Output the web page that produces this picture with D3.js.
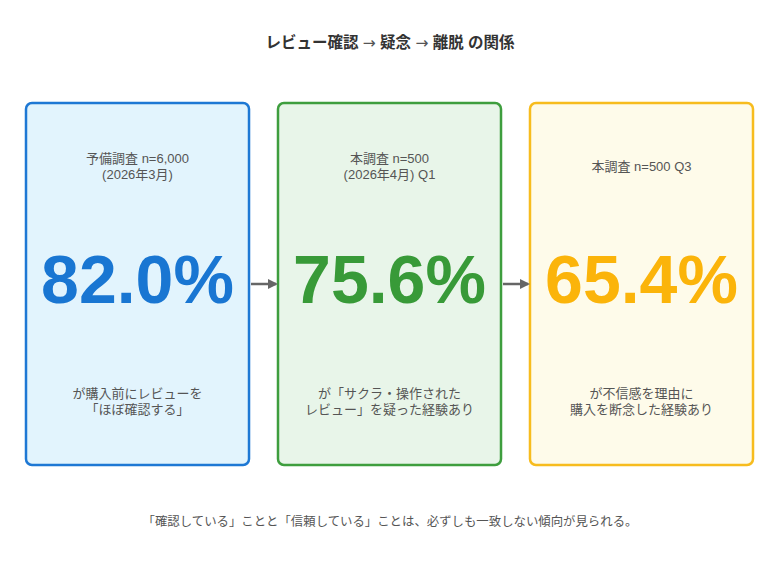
<!DOCTYPE html>
<html><head><meta charset="utf-8">
<script src="https://cdn.jsdelivr.net/npm/d3@7"></script>
<style>
html,body{margin:0;padding:0;background:#fff;}
svg{display:block;}
</style></head>
<body>
<svg id="chart" width="780" height="568"></svg>
<script>
const titleParts = ["レビュー確認 ", "→", " 疑念 ", "→", " 離脱 の関係"];
const stages = ["予備調査", "本調査Q1", "本調査Q3"];
const values = [82.0, 75.6, 65.4];
const topTexts = [
  ["予備調査 n=6,000", "(2026年3月)"],
  ["本調査 n=500", "(2026年4月) Q1"],
  ["本調査 n=500 Q3"]
];
const bottomTexts = [
  ["が購入前にレビューを", "「ほぼ確認する」"],
  ["が「サクラ・操作された", "レビュー」を疑った経験あり"],
  ["が不信感を理由に", "購入を断念した経験あり"]
];
const strokeColors = ["#1E78D4", "#3E9E3E", "#F7BC1E"];
const fillColors = ["#E2F4FD", "#E8F5E9", "#FEFBEA"];
const numColors = ["#1976D2", "#389A38", "#FBB40A"];
const footnote = "「確認している」ことと「信頼している」ことは、必ずしも一致しない傾向が見られる。";

const svg = d3.select("#chart");
const jp = "'Liberation Sans', 'Noto Sans CJK JP', sans-serif";

const x = d3.scaleBand().domain(stages).range([26, 753]).paddingInner(0.115).paddingOuter(0);
const boxTop = 103, boxBottom = 465;

svg.append("defs").append("marker")
  .attr("id", "arr").attr("viewBox", "0 0 10 10").attr("refX", 8).attr("refY", 5)
  .attr("markerWidth", 4).attr("markerHeight", 4).attr("orient", "auto")
  .append("path").attr("d", "M0,0 L10,5 L0,10 z").attr("fill", "#666");

const title = svg.append("text").attr("x", 390).attr("y", 48).attr("text-anchor", "middle")
  .attr("font-family", jp).attr("font-weight", "bold").attr("font-size", 15.5)
  .attr("fill", "#333");
title.selectAll("tspan").data(titleParts).join("tspan")
  .attr("font-family", d => d === "→" ? "'DejaVu Sans', sans-serif" : null)
  .attr("font-weight", d => d === "→" ? "normal" : null)
  .attr("fill", d => d === "→" ? "#555" : null)
  .text(d => d);

const g = svg.selectAll("g.stage").data(stages).join("g").attr("class", "stage");

g.append("rect")
  .attr("x", d => x(d)).attr("y", boxTop)
  .attr("width", x.bandwidth()).attr("height", boxBottom - boxTop)
  .attr("rx", 6).attr("ry", 6)
  .attr("fill", (d, i) => fillColors[i])
  .attr("stroke", (d, i) => strokeColors[i]).attr("stroke-width", 2.5);

g.each(function(d, i) {
  const cx = x(d) + x.bandwidth() / 2;
  const sel = d3.select(this);
  const tl = topTexts[i];
  const lh = 16;
  const tStart = 166 - (tl.length - 1) * lh / 2 + 5;
  tl.forEach((t, j) => {
    sel.append("text").attr("x", cx).attr("y", tStart + j * lh)
      .attr("text-anchor", "middle").attr("font-family", jp).attr("font-size", 13)
      .attr("fill", "#555").text(t);
  });
  sel.append("text").attr("x", cx).attr("y", 303)
    .attr("text-anchor", "middle")
    .attr("font-family", "'Liberation Sans', Arial, sans-serif")
    .attr("font-weight", "bold").attr("font-size", 68)
    .attr("fill", numColors[i]).text(d3.format(".1f")(values[i]) + "%");
  const bl = bottomTexts[i];
  const bStart = 401 - (bl.length - 1) * lh / 2 + 5;
  bl.forEach((t, j) => {
    sel.append("text").attr("x", cx).attr("y", bStart + j * lh)
      .attr("text-anchor", "middle").attr("font-family", jp).attr("font-size", 13)
      .attr("fill", "#555").text(t);
  });
});

// arrows between boxes
stages.slice(0, -1).forEach((d, i) => {
  const x1 = x(d) + x.bandwidth() + 2;
  const x2 = x(stages[i + 1]) - 2;
  svg.append("line").attr("x1", x1).attr("x2", x2).attr("y1", 284).attr("y2", 284)
    .attr("stroke", "#666").attr("stroke-width", 2.5).attr("marker-end", "url(#arr)");
});

svg.append("text").attr("x", 390).attr("y", 526).attr("text-anchor", "middle")
  .attr("font-family", jp).attr("font-size", 12.4).attr("fill", "#555").text(footnote);
</script>
</body></html>
